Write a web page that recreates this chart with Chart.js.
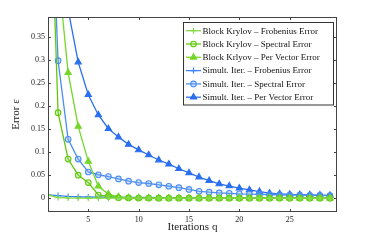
<!doctype html>
<html lang="en">
<head>
<meta charset="utf-8">
<title>Error vs iterations</title>
<script src="https://cdn.jsdelivr.net/npm/chart.js@4.4.1/dist/chart.umd.min.js"></script>
<style>
  html, body { margin: 0; padding: 0; background: #fff; }
  #wrap { width: 373px; height: 240px; }
</style>
</head>
<body>
<div id="wrap"><canvas id="errChart" width="373" height="240"></canvas></div>
<script>
// iteration counts q
var iters = [1,2,3,4,5,6,7,8,9,10,11,12,13,14,15,16,17,18,19,20,21,22,23,24,25,26,27,28,29];

// Block Krylov
var bkFrob = [0.007,0.0015,0.0005,0.0003,0.0002,0.0001,0.0001,0,0,0,0,0,0,0,0,0,0,0,0,0,0,0,0,0,0,0,0,0,0];
var bkSpec = [0.836,0.186,0.085,0.05,0.034,0.007,0.004,0.001,0.0005,0.0003,0.0002,0.0001,0,0,0,0,0,0,0,0,0,0,0,0,0,0,0,0,0];
var bkPerVec = [1.0,0.493,0.273,0.156,0.08,0.026,0.009,0.003,0.001,0.0005,0.0003,0.0002,0.0001,0,0,0,0,0,0,0,0,0,0,0,0,0,0,0,0];

// Simultaneous iteration
var siFrob = [0.007,0.0057,0.0038,0.003,0.0026,0.0023,0.0021,0.0019,0.0017,0.0016,0.0015,0.0014,0.0013,0.0012,0.0011,0.001,0.001,0.0009,0.0009,0.0008,0.0008,0.0007,0.0007,0.0007,0.0006,0.0006,0.0006,0.0005,0.0005];
var siSpec = [0.836,0.299,0.128,0.085,0.057,0.051,0.047,0.042,0.037,0.034,0.032,0.029,0.026,0.023,0.019,0.015,0.013,0.0115,0.0105,0.0095,0.009,0.0085,0.008,0.0075,0.007,0.0065,0.006,0.006,0.0055];
var siPerVec = [1.0,0.62,0.41,0.296,0.225,0.181,0.151,0.133,0.117,0.105,0.094,0.083,0.074,0.064,0.055,0.046,0.038,0.031,0.0265,0.022,0.018,0.0145,0.011,0.0093,0.0082,0.0076,0.007,0.0065,0.006];

var legendLabels = [
  "Block Krylov \u2013 Frobenius Error",
  "Block Krylov \u2013 Spectral Error",
  "Block Krlyov \u2013 Per Vector Error",
  "Simult. Iter. \u2013 Frobenius Error",
  "Simult. Iter. \u2013 Spectral Error",
  "Simult. Iter. \u2013 Per Vector Error"
];
var xTicks = [5, 10, 15, 20, 25];
var yTicks = [0, 0.05, 0.1, 0.15, 0.2, 0.25, 0.3, 0.35];

function pts(arr) {
  return arr.map(function (v, i) { return { x: iters[i], y: v }; });
}

function series(label, arr, color, style, radius, fill) {
  return {
    label: label,
    data: pts(arr),
    borderColor: color,
    backgroundColor: fill,
    pointBackgroundColor: fill,
    pointBorderColor: color,
    pointStyle: style,
    pointRadius: radius,
    pointBorderWidth: 1.1,
    borderWidth: 1.3,
    tension: 0
  };
}

var datasets = [
  series(legendLabels[0], bkFrob, '#84dc46', 'cross', 3, '#84dc46'),
  series(legendLabels[1], bkSpec, '#62c80e', 'circle', 2.8, 'rgba(150,220,90,0.35)'),
  series(legendLabels[2], bkPerVec, '#74d62a', 'triangle', 3.6, '#74d62a'),
  series(legendLabels[3], siFrob, '#3a82ff', 'cross', 3, '#3a82ff'),
  series(legendLabels[4], siSpec, '#4c8ef0', 'circle', 2.8, 'rgba(120,170,245,0.35)'),
  series(legendLabels[5], siPerVec, '#2a6ff0', 'triangle', 3.6, '#2a6ff0')
];

// frame, inward ticks and legend box drawn on top of the plot
var framePlugin = {
  id: 'frame',
  afterDraw: function (chart) {
    var ctx = chart.ctx, a = chart.chartArea;
    var xs = chart.scales.x, ys = chart.scales.y;
    ctx.save();
    ctx.strokeStyle = '#444';
    ctx.lineWidth = 1;
    ctx.strokeRect(a.left + 0.5, a.top + 0.5, a.right - a.left - 1, a.bottom - a.top - 1);
    ctx.beginPath();
    xTicks.forEach(function (v) {
      var px = Math.round(xs.getPixelForValue(v)) + 0.5;
      ctx.moveTo(px, a.bottom); ctx.lineTo(px, a.bottom - 3);
      ctx.moveTo(px, a.top); ctx.lineTo(px, a.top + 3);
    });
    yTicks.forEach(function (v) {
      var py = Math.round(ys.getPixelForValue(v)) + 0.5;
      ctx.moveTo(a.left, py); ctx.lineTo(a.left + 3, py);
      ctx.moveTo(a.right, py); ctx.lineTo(a.right - 3, py);
    });
    ctx.stroke();

    // legend
    var bx = 183.5, by = 22.5, bw = 150, bh = 82.5;
    ctx.fillStyle = '#fff';
    ctx.fillRect(bx, by, bw, bh);
    ctx.strokeStyle = '#333';
    ctx.strokeRect(bx, by, bw, bh);
    ctx.font = "9px 'Liberation Serif', serif";
    ctx.textBaseline = 'middle';
    chart.data.datasets.forEach(function (ds, i) {
      var cy = 30.7 + i * 13.3;
      ctx.strokeStyle = ds.borderColor;
      ctx.lineWidth = 1.3;
      ctx.beginPath();
      ctx.moveTo(186, cy); ctx.lineTo(201, cy);
      ctx.stroke();
      ctx.fillStyle = ds.pointBackgroundColor;
      ctx.strokeStyle = ds.pointBorderColor;
      ctx.lineWidth = 1.1;
      Chart.helpers.drawPoint(ctx, { pointStyle: ds.pointStyle, radius: ds.pointRadius, rotation: 0, borderWidth: 1.1 }, 193.5, cy);
      ctx.fillStyle = '#111';
      ctx.fillText(ds.label, 202.5, cy + 0.5);
    });
    ctx.restore();
  }
};

Chart.defaults.font.family = "'Liberation Serif', serif";
Chart.defaults.color = '#222';

new Chart(document.getElementById('errChart'), {
  type: 'line',
  data: { datasets: datasets },
  options: {
    responsive: false,
    devicePixelRatio: 1,
    animation: false,
    layout: { padding: { top: 17, right: 36, left: 0, bottom: 0 } },
    plugins: { legend: { display: false }, tooltip: { enabled: false } },
    scales: {
      x: {
        type: 'linear',
        min: 1,
        max: 29.7,
        grid: { display: false, drawTicks: false },
        border: { display: false },
        afterBuildTicks: function (s) { s.ticks = xTicks.map(function (v) { return { value: v }; }); },
        afterFit: function (s) { s.height = 28; },
        ticks: { font: { size: 8 }, padding: 3, maxRotation: 0 },
        title: { display: true, text: 'Iterations q', font: { size: 11 }, padding: { top: 0, bottom: 6 } }
      },
      y: {
        type: 'linear',
        min: -0.03,
        max: 0.394,
        grid: { display: false, drawTicks: false },
        border: { display: false },
        afterBuildTicks: function (s) { s.ticks = yTicks.map(function (v) { return { value: v }; }); },
        afterFit: function (s) { s.width = 48; },
        ticks: {
          font: { size: 8 },
          padding: 3,
          callback: function (v) { return String(Math.round(v * 100) / 100); }
        },
        title: { display: true, text: 'Error \u03b5', font: { size: 11 }, padding: { top: 10, bottom: 0 } }
      }
    }
  },
  plugins: [framePlugin]
});
</script>
</body>
</html>
